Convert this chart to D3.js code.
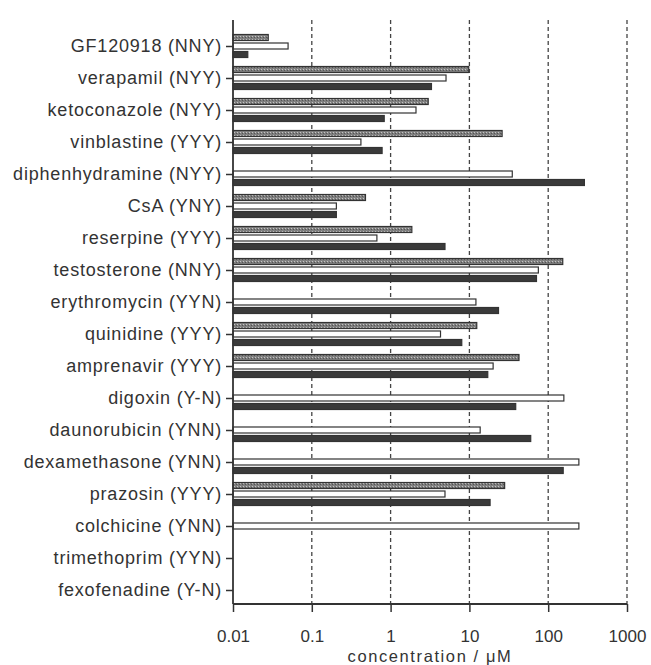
<!DOCTYPE html>
<html>
<head>
<meta charset="utf-8">
<script src="https://cdn.jsdelivr.net/npm/d3@7"></script>
<style>
  body { margin: 0; background: #fff; }
  svg { display: block; }
  text { font-family: "Liberation Sans", Arial, sans-serif; fill: #333; }
</style>
</head>
<body>
<div id="chart"></div>
<script>
// Data
const names = [
    "GF120918 (NNY)", "verapamil (NYY)", "ketoconazole (NYY)", "vinblastine (YYY)",
    "diphenhydramine (NYY)", "CsA (YNY)", "reserpine (YYY)", "testosterone (NNY)",
    "erythromycin (YYN)", "quinidine (YYY)", "amprenavir (YYY)", "digoxin (Y-N)",
    "daunorubicin (YNN)", "dexamethasone (YNN)", "prazosin (YYY)", "colchicine (YNN)",
    "trimethoprim (YYN)", "fexofenadine (Y-N)"
];
// three series per compound (null = no bar)
const greyVals  = [0.028, 9.8, 3.0, 26, null, 0.48, 1.86, 153, null, 12.4, 42.6, null, null, null, 28, null, null, null];
const whiteVals = [0.050, 5.05, 2.1, 0.42, 35, 0.205, 0.67, 75, 12.1, 4.3, 20, 158, 13.7, 245, 4.9, 245, null, null];
const darkVals  = [0.0154, 3.3, 0.83, 0.78, 288, 0.205, 4.9, 71, 23.4, 8.0, 17.1, 38.7, 60, 155, 18.3, null, null, null];
const xTicks = [0.01, 0.1, 1, 10, 100, 1000];
const xLabel = "concentration / \u03bcM";

const W = 651, H = 665;
const svg = d3.select("#chart").append("svg").attr("width", W).attr("height", H);

// stippled grey fill
const defs = svg.append("defs");
const pat = defs.append("pattern").attr("id", "stipple")
    .attr("patternUnits", "userSpaceOnUse").attr("width", 3).attr("height", 3);
pat.append("rect").attr("width", 3).attr("height", 3).attr("fill", "#808080");
pat.append("rect").attr("x", 0).attr("y", 0).attr("width", 1).attr("height", 1).attr("fill", "#c4c4c4");
pat.append("rect").attr("x", 2).attr("y", 1).attr("width", 1).attr("height", 1).attr("fill", "#555");

// Scales
const x = d3.scaleLog().domain([0.01, 1000]).range([233, 627]);
const y = d3.scalePoint().domain(names).range([46, 590]);
const plotTop = 20, axisY = 604;

// Grid
svg.append("g").selectAll("line")
    .data(xTicks.slice(1))
    .join("line")
    .attr("x1", d => x(d)).attr("x2", d => x(d))
    .attr("y1", plotTop).attr("y2", axisY)
    .attr("stroke", "#444").attr("stroke-width", 1.3)
    .attr("stroke-dasharray", "4,3");

// Bars
const series = [
    { vals: greyVals, off: -8.5, fill: "url(#stipple)" },
    { vals: whiteVals, off: 0, fill: "#fff" },
    { vals: darkVals, off: 8.5, fill: "#3a3a3a" }
];
const barH = 6;
series.forEach(s => {
    const data = names.map((n, i) => ({ name: n, v: s.vals[i] })).filter(d => d.v != null);
    svg.append("g").selectAll("rect")
        .data(data)
        .join("rect")
        .attr("x", x(0.01))
        .attr("y", d => y(d.name) + s.off - barH / 2)
        .attr("width", d => x(d.v) - x(0.01))
        .attr("height", barH)
        .attr("fill", s.fill)
        .attr("stroke", "#333")
        .attr("stroke-width", 1.2);
});

// Axes
const gx = svg.append("g")
    .attr("transform", `translate(0,${axisY})`)
    .call(d3.axisBottom(x).tickValues(xTicks).tickFormat(d => d).tickSize(8).tickPadding(18));
gx.select(".domain").attr("d", `M${x(0.01)},0H${x(1000)}`);

const gy = svg.append("g")
    .attr("transform", `translate(${x(0.01)},0)`)
    .call(d3.axisLeft(y).tickSize(7).tickPadding(4));
gy.select(".domain").attr("d", `M0,${plotTop}V${axisY}`);

svg.selectAll(".domain").attr("stroke", "#333").attr("stroke-width", 1.8);
svg.selectAll(".tick line").attr("stroke", "#333").attr("stroke-width", 1.5);
gx.selectAll("text").attr("font-size", 17).attr("font-family", null).attr("fill", "#333");
gy.selectAll("text").attr("font-size", 18).attr("font-family", null).attr("fill", "#333")
    .style("letter-spacing", "0.8px");

svg.append("text")
    .attr("x", (x(0.01) + x(1000)) / 2)
    .attr("y", 661.5)
    .attr("text-anchor", "middle")
    .attr("font-size", 16.5)
    .style("letter-spacing", "1.6px")
    .text(xLabel);
</script>
</body>
</html>
